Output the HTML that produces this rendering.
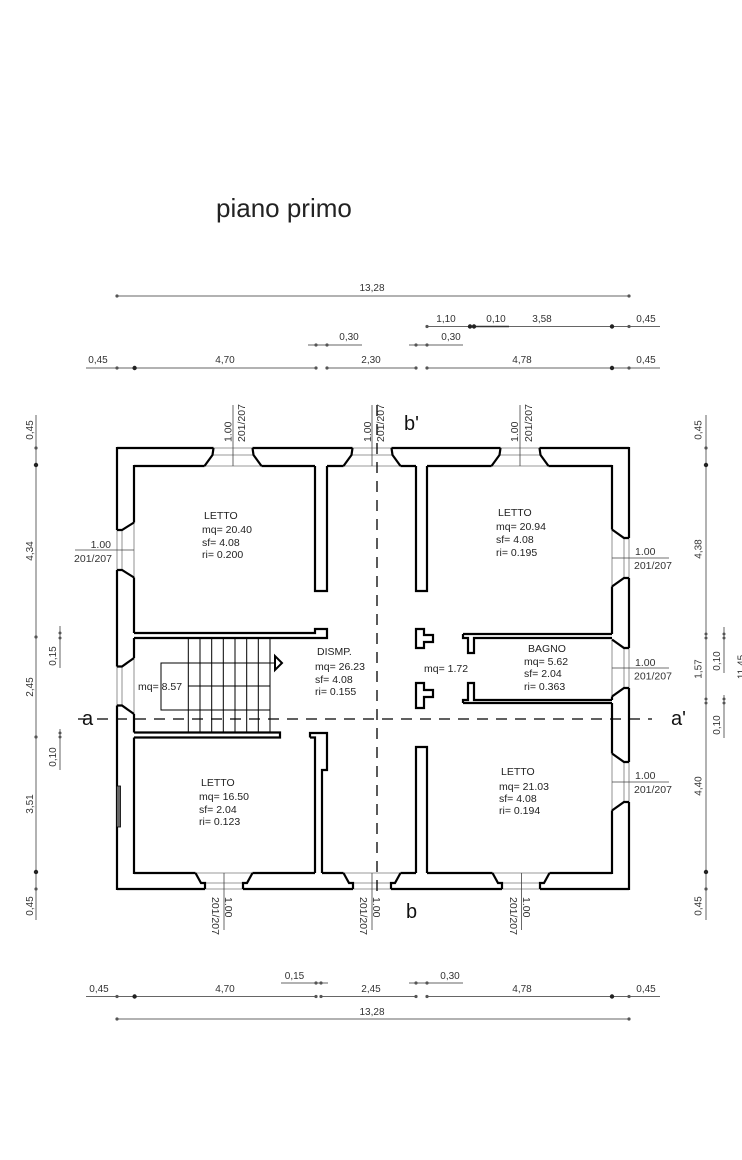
<!DOCTYPE html>
<html><head><meta charset="utf-8"><style>
html,body{margin:0;padding:0;background:#fff;}
svg{display:block;}
text{font-family:"Liberation Sans",Arial,sans-serif;}
</style></head><body>
<svg width="742" height="1160" viewBox="0 0 742 1160" xmlns="http://www.w3.org/2000/svg">
<rect width="742" height="1160" fill="#fff"/>
<text x="216" y="217" font-size="26" fill="#222">piano primo</text>

<!-- dimension lines -->
<g stroke="#666" stroke-width="1" fill="none">
<line x1="117" y1="296" x2="629" y2="296"/>
<line x1="427" y1="326.5" x2="660" y2="326.5"/>
<line x1="308" y1="345" x2="362" y2="345"/>
<line x1="409" y1="345" x2="463" y2="345"/>
<line x1="86" y1="368" x2="316" y2="368"/>
<line x1="327" y1="368" x2="416" y2="368"/>
<line x1="427" y1="368" x2="660" y2="368"/>
<line x1="281" y1="983" x2="328" y2="983"/>
<line x1="409" y1="983" x2="463" y2="983"/>
<line x1="86" y1="996.5" x2="316" y2="996.5"/>
<line x1="321" y1="996.5" x2="416" y2="996.5"/>
<line x1="427" y1="996.5" x2="660" y2="996.5"/>
<line x1="117" y1="1019" x2="629" y2="1019"/>
<line x1="36" y1="415" x2="36" y2="920"/>
<line x1="60" y1="626" x2="60" y2="668"/>
<line x1="60" y1="729" x2="60" y2="770"/>
<line x1="706" y1="415" x2="706" y2="920"/>
<line x1="724" y1="627" x2="724" y2="673"/>
<line x1="724" y1="695" x2="724" y2="738"/>
</g>
<line x1="473" y1="326.5" x2="509" y2="326.5" stroke="#333" stroke-width="1.6"/>

<!-- dots -->
<g fill="#555">
<circle cx="117" cy="296" r="1.6"/><circle cx="629" cy="296" r="1.6"/>
<circle cx="427" cy="326.5" r="1.6"/><circle cx="629" cy="326.5" r="1.6"/>
<circle cx="316" cy="345" r="1.6"/><circle cx="327" cy="345" r="1.6"/><circle cx="416" cy="345" r="1.6"/><circle cx="427" cy="345" r="1.6"/>
<circle cx="117" cy="368" r="1.6"/><circle cx="316" cy="368" r="1.6"/><circle cx="327" cy="368" r="1.6"/><circle cx="416" cy="368" r="1.6"/><circle cx="427" cy="368" r="1.6"/><circle cx="629" cy="368" r="1.6"/>
<circle cx="316" cy="983" r="1.6"/><circle cx="321" cy="983" r="1.6"/><circle cx="416" cy="983" r="1.6"/><circle cx="427" cy="983" r="1.6"/>
<circle cx="117" cy="996.5" r="1.6"/><circle cx="316" cy="996.5" r="1.6"/><circle cx="321" cy="996.5" r="1.6"/><circle cx="416" cy="996.5" r="1.6"/><circle cx="427" cy="996.5" r="1.6"/><circle cx="629" cy="996.5" r="1.6"/>
<circle cx="117" cy="1019" r="1.6"/><circle cx="629" cy="1019" r="1.6"/>
<circle cx="36" cy="448" r="1.6"/><circle cx="36" cy="637" r="1.6"/><circle cx="36" cy="737" r="1.6"/><circle cx="36" cy="889" r="1.6"/>
<circle cx="60" cy="633" r="1.5"/><circle cx="60" cy="638" r="1.5"/><circle cx="60" cy="733" r="1.5"/><circle cx="60" cy="737" r="1.5"/>
<circle cx="706" cy="448" r="1.6"/><circle cx="706" cy="634" r="1.5"/><circle cx="706" cy="638" r="1.5"/><circle cx="706" cy="699" r="1.5"/><circle cx="706" cy="703" r="1.5"/><circle cx="706" cy="889" r="1.6"/>
<circle cx="724" cy="634" r="1.5"/><circle cx="724" cy="638" r="1.5"/><circle cx="724" cy="699" r="1.5"/><circle cx="724" cy="703" r="1.5"/>
</g>
<g fill="#222">
<circle cx="470" cy="326.5" r="2.2"/><circle cx="474" cy="326.5" r="2.2"/><circle cx="612" cy="326.5" r="2.2"/>
<circle cx="134.6" cy="368" r="2.2"/><circle cx="612" cy="368" r="2.2"/>
<circle cx="134.6" cy="996.5" r="2.2"/><circle cx="612" cy="996.5" r="2.2"/>
<circle cx="36" cy="465" r="2.2"/><circle cx="36" cy="872" r="2.2"/>
<circle cx="706" cy="465" r="2.2"/><circle cx="706" cy="872" r="2.2"/>
</g>

<!-- dimension text -->
<g font-size="10" fill="#333" text-anchor="middle">
<text x="372" y="291">13,28</text>
<text x="446" y="322">1,10</text><text x="496" y="322">0,10</text><text x="542" y="322">3,58</text><text x="646" y="322">0,45</text>
<text x="349" y="340">0,30</text><text x="451" y="340">0,30</text>
<text x="98" y="363">0,45</text><text x="225" y="363">4,70</text><text x="371" y="363">2,30</text><text x="522" y="363">4,78</text><text x="646" y="363">0,45</text>
<text x="294.5" y="979">0,15</text><text x="450" y="979">0,30</text>
<text x="99" y="992">0,45</text><text x="225" y="992">4,70</text><text x="371" y="992">2,45</text><text x="522" y="992">4,78</text><text x="646" y="992">0,45</text>
<text x="372" y="1015">13,28</text>
<text transform="translate(33,430) rotate(-90)">0,45</text>
<text transform="translate(33,551) rotate(-90)">4,34</text>
<text transform="translate(33,687) rotate(-90)">2,45</text>
<text transform="translate(33,804) rotate(-90)">3,51</text>
<text transform="translate(33,906) rotate(-90)">0,45</text>
<text transform="translate(56,656) rotate(-90)">0,15</text>
<text transform="translate(56,757) rotate(-90)">0,10</text>
<text transform="translate(701.5,430) rotate(-90)">0,45</text>
<text transform="translate(701.5,549) rotate(-90)">4,38</text>
<text transform="translate(701.5,669) rotate(-90)">1,57</text>
<text transform="translate(701.5,786) rotate(-90)">4,40</text>
<text transform="translate(701.5,906) rotate(-90)">0,45</text>
<text transform="translate(720,661) rotate(-90)">0,10</text>
<text transform="translate(720,725) rotate(-90)">0,10</text>
<text transform="translate(744.5,667) rotate(-90)">11,45</text>
</g>

<!-- window thin lines -->
<g stroke="#777" stroke-width="0.8" fill="none">
<path d="M213.5,448H252.5M212.5,455H253.5M204.5,466H261.5"/>
<path d="M352.5,448H391.5M351.5,455H392.5M343.5,466H400.5"/>
<path d="M500.5,448H539.5M499.5,455H540.5M491.5,466H548.5"/>
<path d="M205,889H243M201,883H247M195.5,873H252.5"/>
<path d="M353,889H391M349,883H395M343.5,873H400.5"/>
<path d="M502,889H540M498,883H544M492.5,873H549.5"/>
<path d="M117,530V570M122,530V570M134,522.5V577.5"/>
<path d="M117,666.5V705.5M122,666.5V705.5M134,658V714"/>
<path d="M629,538V578M624,538V578M612,529.5V586.5"/>
<path d="M629,648V688M624,648V688M612,639.5V696.5"/>
<path d="M629,762V802M624,762V802M612,753.5V810.5"/>
</g>

<!-- window axis lines -->
<g stroke="#444" stroke-width="0.8" fill="none">
<path d="M233,405V466M372,405V466M520,405V466"/>
<path d="M224,873V930M372,873V930M521.5,873V930"/>
<path d="M75,550H134"/>
<path d="M612,558H669M612,668H669M612,782H669"/>
</g>

<!-- walls -->
<g stroke="#000" stroke-width="2.2" fill="none" stroke-linejoin="miter">
<!-- outer -->
<path d="M117,448H213.5M252.5,448H352.5M391.5,448H500.5M539.5,448H629"/>
<path d="M117,889H205M243,889H353M391,889H502M540,889H629"/>
<path d="M117,447V530M117,570V666.5M117,705.5V890"/>
<path d="M629,447V538M629,578V648M629,688V762M629,802V890"/>
<!-- inner -->
<path d="M134,466H204.5M261.5,466H315M327,466H343.5M400.5,466H416M427,466H491.5M548.5,466H612"/>
<path d="M134,873H195.5M252.5,873H315M322,873H343.5M400.5,873H416M427,873H492.5M549.5,873H612"/>
<path d="M134,465V522.5M134,577.5V633M134,638V658M134,714V732.5M134,737.5V874"/>
<path d="M612,465V529.5M612,586.5V634M612,696.5V700M612,703V753.5M612,810.5V874"/>
<!-- window splays -->
<path d="M213.5,448L212.5,455L204.5,466M252.5,448L253.5,455L261.5,466"/>
<path d="M352.5,448L351.5,455L343.5,466M391.5,448L392.5,455L400.5,466"/>
<path d="M500.5,448L499.5,455L491.5,466M539.5,448L540.5,455L548.5,466"/>
<path d="M195.5,873L201,883H205V889M252.5,873L247,883H243V889"/>
<path d="M343.5,873L349,883H353V889M400.5,873L395,883H391V889"/>
<path d="M492.5,873L498,883H502V889M549.5,873L544,883H540V889"/>
<path d="M117,530H122L134,522.5M117,570H122L134,577.5"/>
<path d="M117,666.5H122L134,658M117,705.5H122L134,714"/>
<path d="M629,538H624L612,529.5M629,578H624L612,586.5"/>
<path d="M629,648H624L612,639.5M629,688H624L612,696.5"/>
<path d="M629,762H624L612,753.5M629,802H624L612,810.5"/>
<!-- partitions -->
<path d="M315,466V591H327V466"/>
<path d="M416,466V591H427V466"/>
<path d="M134,633H315V629H327V638H134"/>
<path d="M134,732.5H280V737.5H134"/>
<path d="M310,737.5V733H327V770H322V873M310,737.5H315V873"/>
<path d="M416,873V747H427V873"/>
<path d="M463,634H612M463,634V638H468V653H474V638H612"/>
<path d="M463,703H612M463,703V700H468V683H474V700H612"/>
<path d="M416,629H424V635H433V642H424V648H416Z"/>
<path d="M416,683H424V690H433V697H424V708H416Z"/>
</g>
<rect x="116.5" y="786" width="4" height="41" fill="#666" stroke="#000" stroke-width="0.8"/>

<!-- stairs -->
<g stroke="#000" stroke-width="1" fill="none">
<path d="M188.3,638V732.5M200,638V732.5M211.7,638V732.5M223.3,638V732.5M235,638V732.5M246.7,638V732.5M258.3,638V732.5M270,638V732.5"/>
<path d="M188.3,686H270"/>
<path d="M275,663H161V710H270"/>
</g>
<path d="M275,656V670L282,663Z" stroke="#000" stroke-width="2" fill="none"/>

<!-- section lines -->
<g stroke="#000" stroke-width="1.3" fill="none" stroke-dasharray="11 8">
<path d="M78,719H652"/>
<path d="M377,405V895"/>
</g>
<g font-size="20" fill="#111">
<text x="82" y="725">a</text>
<text x="671" y="725">a'</text>
<text x="404" y="430">b'</text>
<text x="406" y="918">b</text>
</g>

<!-- window labels -->
<g font-size="10.5" fill="#333">
<text transform="translate(231.5,442) rotate(-90)">1.00</text>
<text transform="translate(245,442) rotate(-90)">201/207</text>
<text transform="translate(371,442) rotate(-90)">1.00</text>
<text transform="translate(384,442) rotate(-90)">201/207</text>
<text transform="translate(518,442) rotate(-90)">1.00</text>
<text transform="translate(532,442) rotate(-90)">201/207</text>
<text transform="translate(212,897) rotate(90)">201/207</text>
<text transform="translate(225,897) rotate(90)">1.00</text>
<text transform="translate(360,897) rotate(90)">201/207</text>
<text transform="translate(373,897) rotate(90)">1.00</text>
<text transform="translate(510,897) rotate(90)">201/207</text>
<text transform="translate(523,897) rotate(90)">1.00</text>
<text x="111" y="548" text-anchor="end">1.00</text>
<text x="112" y="562" text-anchor="end">201/207</text>
<text x="635" y="555">1.00</text>
<text x="634" y="569">201/207</text>
<text x="635" y="666">1.00</text>
<text x="634" y="679.5">201/207</text>
<text x="635" y="779">1.00</text>
<text x="634" y="793">201/207</text>
</g>

<!-- room labels -->
<g font-size="10.5" fill="#222">
<text x="204" y="519">LETTO</text>
<text x="202" y="533">mq= 20.40</text>
<text x="202" y="546">sf= 4.08</text>
<text x="202" y="558">ri= 0.200</text>

<text x="498" y="516">LETTO</text>
<text x="496" y="530">mq= 20.94</text>
<text x="496" y="543">sf= 4.08</text>
<text x="496" y="556">ri= 0.195</text>

<text x="317" y="655">DISMP.</text>
<text x="315" y="670">mq= 26.23</text>
<text x="315" y="683">sf= 4.08</text>
<text x="315" y="695">ri= 0.155</text>

<text x="138" y="690">mq= 8.57</text>
<text x="424" y="672">mq= 1.72</text>

<text x="528" y="652">BAGNO</text>
<text x="524" y="665">mq= 5.62</text>
<text x="524" y="677">sf= 2.04</text>
<text x="524" y="690">ri= 0.363</text>

<text x="201" y="786">LETTO</text>
<text x="199" y="800">mq= 16.50</text>
<text x="199" y="813">sf= 2.04</text>
<text x="199" y="825">ri= 0.123</text>

<text x="501" y="775">LETTO</text>
<text x="499" y="790">mq= 21.03</text>
<text x="499" y="802">sf= 4.08</text>
<text x="499" y="814">ri= 0.194</text>
</g>
</svg>
</body></html>
